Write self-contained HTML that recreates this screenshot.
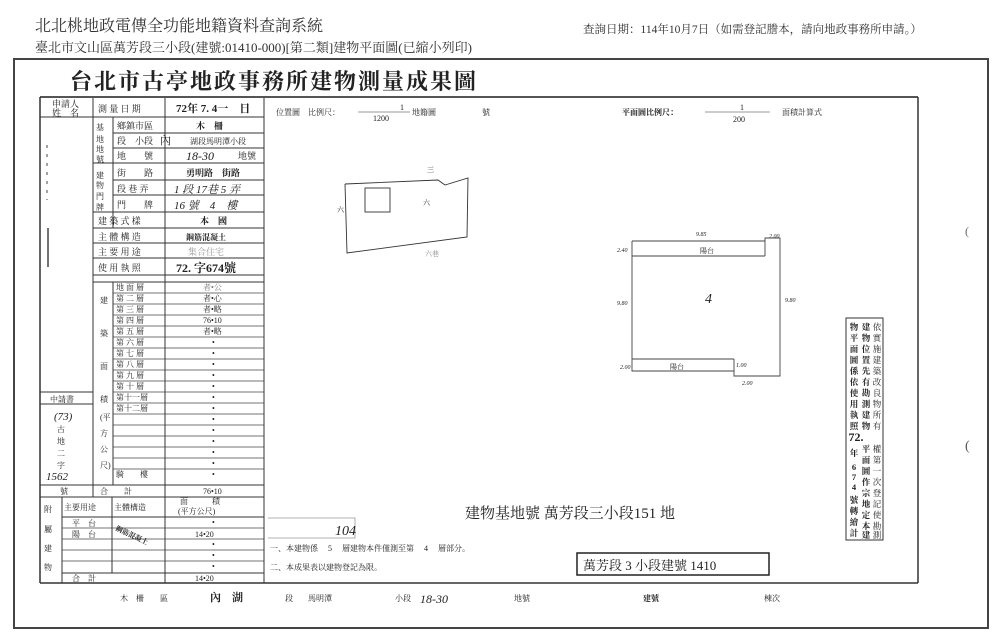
<!DOCTYPE html>
<html><head><meta charset="utf-8"><style>
html,body{margin:0;padding:0;background:#fff;}
svg{display:block;}
.s{font-family:"Liberation Serif","Noto Serif CJK SC","Noto Sans CJK TC",serif;fill:#222;}
.h{font-family:"Liberation Serif","Noto Serif CJK SC",serif;fill:#333;}
</style></head><body>
<svg width="1000" height="642" viewBox="0 0 1000 642" xmlns="http://www.w3.org/2000/svg">
<rect width="1000" height="642" fill="#fff"/>
<text x="35" y="31" class="h" font-size="16">北北桃地政電傳全功能地籍資料查詢系統</text>
<text x="35" y="52" class="h" font-size="13">臺北市文山區萬芳段三小段(建號:01410-000)[第二類]建物平面圖(已縮小列印)</text>
<text x="583" y="33" class="h" font-size="11.5">查詢日期：114年10月7日（如需登記謄本，請向地政事務所申請。）</text>
<rect x="14" y="59" width="974" height="569" fill="none" stroke="#444" stroke-width="2"/>
<text x="70" y="89" class="s" font-size="22" font-weight="bold" letter-spacing="2">台北市古亭地政事務所建物測量成果圖</text>
<line x1="40" y1="97" x2="918" y2="97" stroke="#555" stroke-width="2"/>
<line x1="40" y1="97" x2="40" y2="583" stroke="#333" stroke-width="1.5"/>
<line x1="918" y1="97" x2="918" y2="583" stroke="#333" stroke-width="1.5"/>
<line x1="40" y1="583" x2="918" y2="583" stroke="#333" stroke-width="1.5"/>
<g stroke="#333" stroke-width="1" fill="none">
<line x1="93" y1="98" x2="93" y2="497"/>
<line x1="165" y1="98" x2="165" y2="583"/>
<line x1="264" y1="98" x2="264" y2="583"/>
<line x1="113" y1="117" x2="113" y2="228"/>
<line x1="113" y1="282" x2="113" y2="485"/>
<line x1="62" y1="497" x2="62" y2="583"/>
<line x1="112" y1="497" x2="112" y2="573"/>
<line x1="40" y1="117" x2="93" y2="117"/>
<line x1="40" y1="392" x2="93" y2="392"/>
<line x1="40" y1="404" x2="93" y2="404"/>
<line x1="93" y1="117" x2="264" y2="117"/>
<line x1="113" y1="133" x2="264" y2="133"/>
<line x1="113" y1="148" x2="264" y2="148"/>
<line x1="93" y1="163" x2="264" y2="163"/>
<line x1="113" y1="180" x2="264" y2="180"/>
<line x1="113" y1="195" x2="264" y2="195"/>
<line x1="93" y1="212" x2="264" y2="212"/>
<line x1="93" y1="228" x2="264" y2="228"/>
<line x1="93" y1="243" x2="264" y2="243"/>
<line x1="93" y1="258" x2="264" y2="258"/>
<line x1="93" y1="275" x2="264" y2="275"/>
<line x1="93" y1="282" x2="264" y2="282"/>
<line x1="40" y1="485" x2="264" y2="485"/>
<line x1="40" y1="497" x2="264" y2="497"/>
<line x1="62" y1="517" x2="264" y2="517"/>
<line x1="62" y1="573" x2="264" y2="573"/>
</g>
<g stroke="#444" stroke-width="0.8">
<line x1="113" y1="293" x2="264" y2="293"/><line x1="113" y1="304" x2="264" y2="304"/>
<line x1="113" y1="315" x2="264" y2="315"/><line x1="113" y1="326" x2="264" y2="326"/>
<line x1="113" y1="337" x2="264" y2="337"/><line x1="113" y1="348" x2="264" y2="348"/>
<line x1="113" y1="359" x2="264" y2="359"/><line x1="113" y1="370" x2="264" y2="370"/>
<line x1="113" y1="381" x2="264" y2="381"/><line x1="113" y1="392" x2="264" y2="392"/>
<line x1="113" y1="403" x2="264" y2="403"/><line x1="113" y1="414" x2="264" y2="414"/>
<line x1="113" y1="425" x2="264" y2="425"/><line x1="113" y1="436" x2="264" y2="436"/>
<line x1="113" y1="447" x2="264" y2="447"/><line x1="113" y1="458" x2="264" y2="458"/>
<line x1="113" y1="469" x2="264" y2="469"/>
<line x1="62" y1="528" x2="264" y2="528"/><line x1="62" y1="539" x2="264" y2="539"/>
<line x1="62" y1="550" x2="264" y2="550"/><line x1="62" y1="561" x2="264" y2="561"/>
</g>
<g class="s" font-size="9">
<text x="52" y="107">申請人</text><text x="52" y="116">姓　名</text>
<text x="98" y="112">測 量 日 期</text><text x="176" y="112" font-size="11" font-weight="bold">72年 7. 4一　日</text>
<text x="96" y="130" font-size="8">基</text><text x="96" y="142" font-size="8">地</text><text x="96" y="152" font-size="8">地</text><text x="96" y="162" font-size="8">號</text>
<text x="117" y="129">鄉鎮市區</text><text x="196" y="129" font-weight="bold">木　柵</text>
<text x="117" y="144">段　小段</text><text x="160" y="144" font-size="11">內</text><text x="190" y="144" font-size="8">湖段馬明潭小段</text>
<text x="117" y="159">地　　號</text><text x="186" y="160" font-size="12" font-style="italic">18-30</text><text x="238" y="159">地號</text>
<text x="96" y="178" font-size="8">建</text><text x="96" y="188" font-size="8">物</text><text x="96" y="199" font-size="8">門</text><text x="96" y="210" font-size="8">牌</text>
<text x="117" y="176">街　　路</text><text x="186" y="176" font-weight="bold">勇明路　街路</text>
<text x="117" y="192">段 巷 弄</text><text x="174" y="193" font-size="11" font-style="italic">1 段 17巷 5 弄</text>
<text x="117" y="208">門　　牌</text><text x="174" y="209" font-size="11" font-style="italic">16 號　4　樓</text>
<text x="98" y="224">建 築 式 樣</text><text x="200" y="224" font-weight="bold">本　國</text>
<text x="98" y="240">主 體 構 造</text><text x="186" y="240" font-weight="bold" font-size="8">鋼筋混凝土</text>
<text x="98" y="255">主 要 用 途</text><text x="188" y="255" fill="#999">集合住宅</text>
<text x="98" y="271">使 用 執 照</text><text x="176" y="272" font-size="12" font-weight="bold">72. 字674號</text>
<g font-size="8">
<text x="116" y="290">地 面 層</text><text x="116" y="301">第 二 層</text><text x="116" y="312">第 三 層</text>
<text x="116" y="323">第 四 層</text><text x="116" y="334">第 五 層</text><text x="116" y="345">第 六 層</text>
<text x="116" y="356">第 七 層</text><text x="116" y="367">第 八 層</text><text x="116" y="378">第 九 層</text>
<text x="116" y="389">第 十 層</text><text x="116" y="400">第十一層</text><text x="116" y="411">第十二層</text>
<text x="116" y="477">騎　　樓</text><text x="100" y="494">合　　計</text>
<text x="100" y="303">建</text><text x="100" y="336">築</text><text x="100" y="369">面</text><text x="100" y="402">積</text>
<text x="100" y="420">(平</text><text x="100" y="436">方</text><text x="100" y="452">公</text><text x="100" y="468">尺)</text>
<text x="203" y="290" fill="#777">者•公</text><text x="203" y="301">者•心</text><text x="203" y="312">者•略</text>
<text x="203" y="323">76•10</text><text x="203" y="334">者•略</text>
<text x="203" y="494">76•10</text>
</g>
<g font-size="8"><text x="212" y="345">•</text><text x="212" y="356">•</text><text x="212" y="367">•</text><text x="212" y="378">•</text><text x="212" y="389">•</text><text x="212" y="400">•</text><text x="212" y="411">•</text><text x="212" y="422">•</text><text x="212" y="433">•</text><text x="212" y="444">•</text><text x="212" y="455">•</text><text x="212" y="466">•</text><text x="212" y="477">•</text>
<text x="212" y="525">•</text><text x="212" y="547">•</text><text x="212" y="558">•</text><text x="212" y="569">•</text></g>
<text x="50" y="402" font-size="8">中請書</text>
<text x="54" y="420" font-size="11" font-style="italic">(73)</text>
<text x="57" y="432" font-size="8">古</text><text x="57" y="444" font-size="8">地</text><text x="57" y="456" font-size="8">二</text><text x="57" y="468" font-size="8">字</text>
<text x="46" y="480" font-size="11" font-style="italic">1562</text>
<text x="60" y="494" font-size="8">號</text>
<text x="44" y="512" font-size="8">附</text><text x="44" y="532" font-size="8">屬</text><text x="44" y="551" font-size="8">建</text><text x="44" y="570" font-size="8">物</text>
<text x="64" y="510" font-size="8">主要用途</text><text x="114" y="510" font-size="8">主體構造</text>
<text x="180" y="504" font-size="8">面　　　積</text><text x="178" y="514" font-size="8">(平方公尺)</text>
<text x="72" y="526" font-size="8">平　台</text><text x="72" y="537" font-size="8">陽　台</text>
<text x="115" y="530" font-size="7" font-weight="bold" transform="rotate(25 115 530)">鋼筋混凝土</text>
<text x="195" y="537" font-size="8">14•20</text>
<text x="72" y="581" font-size="8">合　計</text><text x="195" y="581" font-size="8">14•20</text>
</g>
<g stroke="#444"><line x1="47" y1="145" x2="47" y2="200" stroke-dasharray="3 6"/><line x1="48" y1="228" x2="48" y2="267" stroke-width="1.5"/></g>
<g class="s" font-size="8">
<text x="276" y="115">位置圖　比例尺：</text><text x="400" y="110">1</text><line x1="358" y1="112" x2="410" y2="112" stroke="#333" stroke-width="0.6"/><text x="373" y="121">1200</text>
<text x="412" y="115">地籍圖</text><text x="482" y="115">號</text>
<text x="622" y="115" font-weight="bold">平面圖比例尺：</text><line x1="705" y1="112" x2="770" y2="112" stroke="#333" stroke-width="0.6"/><text x="740" y="110">1</text><text x="733" y="122">200</text>
<text x="782" y="115">面積計算式</text>
</g>
<g stroke="#333" stroke-width="0.9" fill="none">
<polyline points="345,184 438,180 445,185 468,178 467,237 347,253 345,184"/>
<rect x="365" y="188" width="25" height="24"/>
</g>
<g class="s" font-size="7"><text x="337" y="212">六</text><text x="423" y="205">六</text><text x="427" y="172">三</text><text x="425" y="256" fill="#888">六巷</text></g>
<g stroke="#444" stroke-width="0.9" fill="none">
<polyline points="632,241 765,241 765,238 780,238 780,376 734,376 734,371 632,371 632,241"/>
<line x1="632" y1="256" x2="765" y2="256"/><line x1="765" y1="256" x2="765" y2="241"/>
<line x1="632" y1="359" x2="734" y2="359"/><line x1="734" y1="359" x2="734" y2="371"/>
</g>
<g class="s" font-size="6" font-style="italic"><text x="696" y="236">9.85</text><text x="617" y="252">2.40</text><text x="617" y="305">9.80</text><text x="785" y="302">9.80</text><text x="620" y="369">2.00</text><text x="769" y="238">2.00</text><text x="736" y="367">1.00</text><text x="742" y="385">2.00</text></g>
<text x="700" y="253" class="s" font-size="7" fill="#aaa">陽台</text>
<text x="670" y="369" class="s" font-size="7" fill="#aaa">陽台</text>
<text x="705" y="303" class="s" font-size="14" font-style="italic">4</text>
<rect x="846" y="318" width="37" height="222" fill="none" stroke="#333" stroke-width="1"/>
<g class="s" font-size="8.5" font-weight="bold" text-anchor="middle">
<text x="854" y="330">物</text><text x="854" y="341">平</text><text x="854" y="352">面</text><text x="854" y="363">圖</text><text x="854" y="374">係</text><text x="854" y="385">依</text><text x="854" y="396">使</text><text x="854" y="407">用</text><text x="854" y="418">執</text><text x="854" y="429">照</text>
<text x="856" y="441" font-size="12">72.</text><text x="854" y="456">年</text><text x="854" y="470">6</text><text x="854" y="480">7</text><text x="854" y="490">4</text><text x="854" y="503">號</text><text x="854" y="514">轉</text><text x="854" y="525">繪</text><text x="854" y="536">計</text>
<text x="866" y="330">建</text><text x="866" y="341">物</text><text x="866" y="352">位</text><text x="866" y="363">置</text><text x="866" y="374">先</text><text x="866" y="385">有</text><text x="866" y="396">勘</text><text x="866" y="407">測</text><text x="866" y="418">建</text><text x="866" y="429">物</text><text x="866" y="452">平</text><text x="866" y="463">面</text><text x="866" y="474">圖</text><text x="866" y="485">作</text><text x="866" y="496">宗</text><text x="866" y="507">地</text><text x="866" y="518">定</text><text x="866" y="529">本</text><text x="866" y="538">建</text>
</g>
<g class="s" font-size="8.5" fill="#555" text-anchor="middle">
<text x="877" y="330">依</text><text x="877" y="341">實</text><text x="877" y="352">施</text><text x="877" y="363">建</text><text x="877" y="374">築</text><text x="877" y="385">改</text><text x="877" y="396">良</text><text x="877" y="407">物</text><text x="877" y="418">所</text><text x="877" y="429">有</text><text x="877" y="452">權</text><text x="877" y="463">第</text><text x="877" y="474">一</text><text x="877" y="485">次</text><text x="877" y="496">登</text><text x="877" y="507">記</text><text x="877" y="518">使</text><text x="877" y="529">勘</text><text x="877" y="538">測</text>
</g>
<path d="M268,518 L355,518 L355,538 L268,538" fill="none" stroke="#999" stroke-width="0.8"/>
<text x="335" y="535" class="s" font-size="14" font-style="italic">104</text>
<text x="465" y="518" class="s" font-size="15">建物基地號 萬芳段三小段151 地</text>
<text x="270" y="551" class="s" font-size="8">一、本建物係　 5　 層建物本件僅測至第　 4　 層部分。</text>
<text x="270" y="570" class="s" font-size="8">二、本成果表以建物登記為限。</text>
<rect x="577" y="553" width="192" height="22" fill="none" stroke="#222" stroke-width="1.5"/>
<text x="583" y="570" class="s" font-size="13">萬芳段 3 小段建號 1410</text>
<g class="s" font-size="8">
<text x="120" y="601">木　柵　　區</text><text x="210" y="601" font-size="11" font-weight="bold">內　湖</text>
<text x="285" y="601">段</text><text x="308" y="601">馬明潭</text><text x="395" y="601">小段</text>
<text x="420" y="603" font-size="12" font-style="italic">18-30</text><text x="514" y="601">地號</text>
<text x="643" y="601" font-weight="bold">建號</text><text x="764" y="601">棟次</text>
</g>
<text x="965" y="235" font-size="12" fill="#666">(</text><text x="965" y="450" font-size="14" fill="#555">(</text>
</svg>
</body></html>
